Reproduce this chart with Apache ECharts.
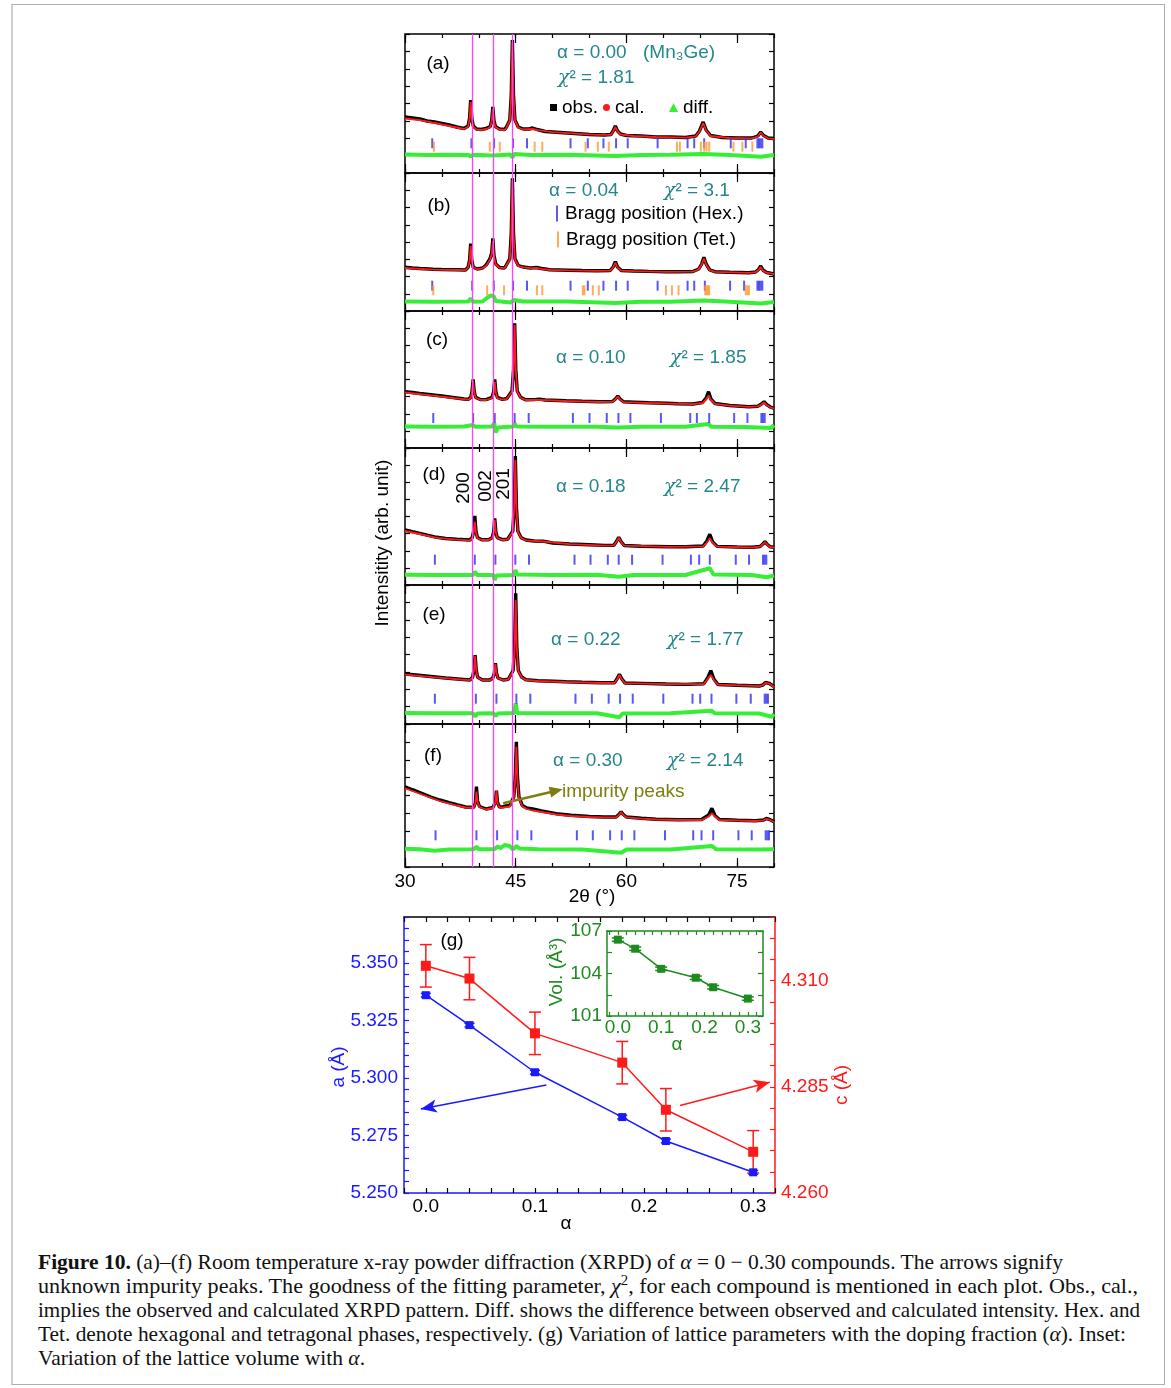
<!DOCTYPE html>
<html><head><meta charset="utf-8">
<script src="https://cdn.jsdelivr.net/npm/echarts@6/dist/echarts.min.js"></script>
<style>
html,body{margin:0;padding:0;background:#fff;}
#wrap{position:relative;width:1171px;height:1388px;overflow:hidden;background:#fff;}
#frame{position:absolute;left:11px;top:4px;width:1154px;height:1381px;border:1px solid #b0b0b0;border-left:2px solid #cdcdcd;box-sizing:border-box;}
#chart{position:absolute;left:0;top:0;width:1171px;height:1240px;}
#cap{position:absolute;left:38px;top:1250px;font-family:'Liberation Serif',serif;font-size:21px;line-height:24px;color:#111;white-space:nowrap;}
#cap div{height:24px;}
#cap span{display:inline-block;transform-origin:0 50%;}
</style></head><body>
<div id="wrap">
<div id="frame"></div>
<div id="chart"></div>
<div id="cap">
<div><span><b>Figure 10.</b> (a)–(f) Room temperature x-ray powder diffraction (XRPD) of <i>α</i> = 0 − 0.30 compounds. The arrows signify</span></div>
<div><span>unknown impurity peaks. The goodness of the fitting parameter, <i>χ</i><sup style="font-size:14px;line-height:0">2</sup>, for each compound is mentioned in each plot. Obs., cal.,</span></div>
<div><span>implies the observed and calculated XRPD pattern. Diff. shows the difference between observed and calculated intensity. Hex. and</span></div>
<div><span>Tet. denote hexagonal and tetragonal phases, respectively. (g) Variation of lattice parameters with the doping fraction (<i>α</i>). Inset:</span></div>
<div><span>Variation of the lattice volume with <i>α</i>.</span></div>
</div>
</div>
<script>
// ---------------- DATA ----------------
// XRD patterns: [2theta (deg), intensity (arb. unit)]
const obsA = [[30,56],[31,55],[32,54],[33,52],[34,51],[35,49.5],[36,48],[37,46],[38,44.5],[38.55,47],[38.75,55],[38.9,73],[39.05,55],[39.25,47],[39.7,44],[40.3,43.5],[41,44.5],[41.55,46.5],[41.75,52.5],[41.9,66],[42.05,52.5],[42.25,46.5],[42.8,44],[43.5,43.5],[43.75,46],[44.2,53],[44.4,78],[44.55,133],[44.7,78],[44.9,53],[45.35,46],[46,44],[46.8,44],[47.3,45],[47.9,43.5],[49,41.5],[51,40.5],[53,39.5],[55,38.5],[57,38],[57.9,38.5],[58.2,42],[58.5,47],[58.8,42],[59.2,39],[60,37.5],[62,37],[64,36],[66,36],[68,35.5],[69.4,37],[69.9,42],[70.4,51],[70.8,43],[71.4,37.5],[73,35.5],[75,35],[77,35],[77.8,37],[78.2,41],[78.6,37.5],[79.2,35],[80,34.5]];
const calA = [[30,54.5],[32,52.8],[34,50],[36,47],[38,44],[38.55,46.3],[38.75,54],[38.9,71],[39.05,54],[39.25,46.3],[39.7,43.3],[40.3,43],[41,44],[41.55,46],[41.75,52],[41.9,64.5],[42.05,52],[42.25,46],[42.8,43.5],[43.5,43],[43.75,45.5],[44.2,52.5],[44.4,77],[44.55,131],[44.7,77],[44.9,52.5],[45.35,45.5],[46,43.5],[47.3,44],[48,42.8],[50,40.8],[53,39.3],[56,38.2],[57.9,38.2],[58.2,41.5],[58.5,46],[58.8,41.5],[59.2,38.5],[61,37],[64,36],[68,35.3],[69.4,36.7],[69.9,41.5],[70.4,50],[70.8,42.5],[71.4,37],[74,35],[77,34.6],[77.8,36.5],[78.2,40.5],[78.6,37],[79.2,34.7],[80,34.2]];
const diffA = [[30,18.5],[33,18],[36,18.3],[38.6,18],[38.9,16.5],[39.2,18.3],[41.9,17.5],[44.3,18.5],[44.55,15.5],[44.8,19],[47,18],[52,18.3],[58.5,17],[62,18],[66,18.3],[70.4,19],[74,18],[78.2,16.3],[80,18]];
const hexA = [33.69,39.0,42.07,44.64,46.53,52.43,54.77,56.89,58.6,60.18,64.23,68.29,69.19,70.54,74.14,76.17,77.75,77.97,78.2,78.42];
const tetA = [33.92,41.49,42.84,47.57,48.6,54.46,56.13,57.61,66.85,67.25,70.09,70.54,70.86,71.22,74.5,75.72,77.07];
const hexLevelA = 29.7, tetLevelA = 26.3;

const obsB = [[30,43.7],[31,43],[32,42.5],[33.8,41.7],[35,41.5],[37,41.2],[38.2,41],[38.55,43.7],[38.75,51],[38.9,67.5],[39.05,51],[39.25,43.7],[39.8,42],[40.5,43],[41,46],[41.5,52],[41.75,58],[41.9,72.7],[42.05,56],[42.3,47],[42.8,43.5],[43.5,43],[44.2,52.2],[44.4,77.8],[44.55,132.7],[44.7,77.8],[44.9,52.2],[45.35,45.5],[46,44],[47,43],[47.8,43.5],[48.5,42.5],[49.6,41.2],[52,40.8],[54,40.5],[56,40.3],[57.8,40.5],[58.2,44],[58.5,49.3],[58.8,44],[59.3,40.5],[61,40],[63,39.6],[65.4,39.3],[67,39.2],[69,39.5],[69.8,42],[70.2,47],[70.5,53.7],[70.8,47],[71.3,41],[72,39.3],[74,38.8],[76.6,38.3],[77.5,39],[77.9,41.5],[78.2,45],[78.5,41],[79,38.5],[80,37]];
const calB = [[30,43],[33.8,41.3],[37,41],[38.2,40.8],[38.55,43.5],[38.75,50],[38.9,65],[39.05,50],[39.25,43.5],[39.8,41.8],[40.5,42.7],[41,45.3],[41.5,51],[41.75,57],[41.9,70],[42.05,55],[42.3,46.5],[42.8,43.3],[43.5,42.8],[44.2,51.5],[44.4,77],[44.55,130.5],[44.7,77],[44.9,51.5],[45.35,45.2],[46,43.7],[47,42.8],[47.8,43],[48.5,42.2],[49.6,41],[52,40.6],[56,40.1],[57.8,40.3],[58.2,43.5],[58.5,48.5],[58.8,43.5],[59.3,40.3],[61,39.8],[65.4,39.1],[69,39.3],[69.8,41.5],[70.2,46.5],[70.5,52.5],[70.8,46.5],[71.3,40.8],[72,39.1],[76.6,38.1],[77.5,38.8],[77.9,41],[78.2,44],[78.5,40.5],[79,38.3],[80,36.8]];
const diffB = [[30,9.5],[34,9.3],[38.6,9.5],[38.9,12.5],[39.2,9.3],[40.5,9.5],[41.1,13],[41.6,15.5],[42,15],[42.3,10],[44.3,8.5],[44.55,7],[44.8,11],[46,9.5],[52,9.5],[58.5,8],[62,9.3],[66,9.3],[70.5,10.5],[74,9.3],[78.2,7.5],[80,9]];
const hexB = [33.69,39.1,42.03,44.64,46.53,52.43,54.77,56.89,58.6,60.18,64.23,68.29,69.19,70.63,74.05,75.95,77.75,77.97,78.2,78.42];
const tetB = [33.83,41.13,43.42,47.88,48.6,54.1,54.32,55.45,56.26,65.36,66.17,67.07,70.68,70.86,71.04,71.22,76.17,76.4,76.62];
const hexLevelB = 25.3, tetLevelB = 20.7;

const obsC = [[30,56.3],[31,55.5],[32,54.5],[33.8,53],[35,52],[36.5,50.5],[38,49],[38.6,48.7],[38.9,50.6],[39.08,56.3],[39.23,68.7],[39.38,56.3],[39.58,50.6],[40.2,48.5],[41,48.4],[41.8,50.6],[42.01,56.3],[42.16,68.7],[42.31,56.3],[42.51,50.6],[43.2,48.6],[43.8,49.5],[44.5,57],[44.71,78.6],[44.86,124.7],[45.01,78.6],[45.21,57],[45.66,50.7],[46.3,48.3],[47.5,48.4],[48.2,48.9],[49,48],[51.8,47.3],[54,46.8],[56.4,46.3],[58.1,46.5],[58.5,49],[58.83,52],[59.15,49],[59.6,46.2],[61,45.8],[63,45.2],[65.4,44.7],[67,44.3],[69,44],[70.3,45.5],[70.8,50],[71.13,56.3],[71.45,49],[72,44.5],[74,42.5],[76.6,41.3],[77.8,41.8],[78.3,44],[78.65,46.3],[79,43.5],[79.5,41],[80,39.7]];
const calC = [[30,55.5],[33.8,52.3],[36.5,50],[38.6,48.3],[38.9,50.2],[39.08,55.7],[39.23,67.5],[39.38,55.7],[39.58,50.2],[40.2,48.2],[41,48],[41.8,50],[42.01,55.5],[42.16,66],[42.31,55.5],[42.51,50],[43.2,48.3],[43.8,49.2],[44.5,56.5],[44.71,78],[44.86,123],[45.01,78],[45.21,56.5],[45.66,50.3],[46.3,48],[48.2,48.2],[51.8,47],[56.4,46],[58.1,46.2],[58.5,48.6],[58.83,51.5],[59.15,48.6],[59.6,45.9],[63,45],[65.4,44.5],[69,43.8],[70.3,45],[70.8,48.5],[71.13,52.5],[71.45,48],[72,44.2],[74,42.3],[76.6,41.1],[77.8,41.6],[78.3,43.5],[78.65,45.5],[79,43],[79.5,40.7],[80,39.5]];
const diffC = [[30,21.5],[34,21.3],[38,21.5],[39.2,23],[39.5,21.3],[41.8,21.5],[42.1,25],[42.3,15.5],[42.6,20.5],[44.7,21.5],[44.86,24.5],[45.1,21.5],[50,21.3],[56,21.3],[58.8,20.5],[62,21.3],[68,21.3],[71.1,24],[71.5,21.3],[76,21],[79.6,20],[80,23]];
const hexC = [33.83,39.23,42.16,44.86,46.76,52.75,55.0,57.34,58.92,60.54,64.68,68.65,69.55,71.22,74.6,76.4,78.29,78.5,78.74];
const hexLevelC = 30;

const obsD = [[30,55],[31,53.3],[32,51.7],[33,49.8],[34.3,47.7],[35.5,46.5],[37,45.7],[38.8,45],[39.11,47.5],[39.31,54],[39.46,69],[39.61,54],[39.81,47.5],[40.4,45.3],[41.3,45.3],[41.81,47.3],[42.01,53],[42.16,66.7],[42.31,53],[42.51,47.3],[43.2,45.3],[43.9,45.8],[44.6,53.7],[44.8,77.5],[44.95,129],[45.1,77.5],[45.3,53.7],[45.75,47.3],[46.4,45],[47.5,44],[48.7,43.8],[50,42],[52.3,41],[55,40.2],[57,39.6],[58.3,39.8],[58.65,43.5],[58.96,47.7],[59.27,43.5],[59.7,39.5],[62,38.8],[65.8,38.3],[68,38.2],[70.4,39],[70.9,44],[71.3,50.7],[71.7,43],[72.3,38.6],[75,38],[77.1,37.7],[78.1,38.5],[78.5,41],[78.78,43.3],[79.1,40.5],[79.5,38.2],[80,37.7]];
const calD = [[30,54],[32,51],[34.3,47.2],[37,45.3],[38.8,44.7],[39.11,47],[39.31,52.5],[39.46,63.3],[39.61,52.5],[39.81,47],[40.4,45],[41.3,45],[41.81,47],[42.01,52.5],[42.16,65],[42.31,52.5],[42.51,47],[43.2,45],[43.9,45.5],[44.6,53],[44.8,76],[44.95,125],[45.1,76],[45.3,53],[45.75,47],[46.4,44.7],[48.7,43.5],[52.3,40.8],[57,39.4],[58.3,39.6],[58.65,43.3],[58.96,47.3],[59.27,43.3],[59.7,39.3],[65.8,38.1],[70.4,38.6],[70.9,42.5],[71.3,46.7],[71.7,42],[72.3,38.4],[77.1,37.5],[78.1,38.3],[78.5,40.8],[78.78,43],[79.1,40.3],[79.5,38],[80,37.5]];
const diffD = [[30,10.3],[34,10],[39.2,10],[39.46,13.3],[39.8,10],[42,10],[42.16,5],[42.4,9.5],[44.8,10],[44.95,15],[45.2,10.5],[50,10],[56,10.3],[58.96,8.3],[61,10],[68,10],[71.3,16.7],[71.8,10.5],[77,10],[79,7.7],[80,9.5]];
const hexD = [34.05,39.46,42.25,44.95,46.8,52.97,55.14,57.48,58.96,60.77,64.9,68.74,69.86,71.3,74.82,76.62,78.51,78.74,78.96];
const hexLevelD = 25.3;

const obsE = [[30,50],[31.5,49],[33.8,47.3],[35.5,46],[37.5,44.8],[38.8,44],[39.15,46.7],[39.35,53.8],[39.5,69],[39.65,53.8],[39.85,46.7],[40.5,44],[41.5,44],[41.9,46],[42.1,50.8],[42.25,60.7],[42.4,50.8],[42.6,46],[43.3,44],[44,44.7],[44.65,53.5],[44.85,77.5],[45,130.7],[45.15,77.5],[45.35,53.5],[45.8,47],[46.4,44.3],[48,43.3],[50,42.8],[51.8,42.3],[54,41.8],[56.5,41.3],[58.4,41.3],[58.75,45.5],[59.05,49.7],[59.35,45.5],[59.8,41],[62,40.6],[65.4,40],[68,39.6],[70.5,40.3],[71,46],[71.44,53.3],[71.85,45],[72.4,39.5],[75,38.7],[78,38],[78.5,39],[78.85,41.5],[79.1,43.3],[79.4,40.5],[80,37.3]];
const calE = [[30,49.3],[33.8,46.8],[37.5,44.5],[38.8,43.8],[39.15,46.5],[39.35,53.5],[39.5,68],[39.65,53.5],[39.85,46.5],[40.5,43.8],[41.5,43.8],[41.9,45.8],[42.1,50.5],[42.25,60],[42.4,50.5],[42.6,45.8],[43.3,43.8],[44,44.5],[44.65,53],[44.85,75.5],[45,124],[45.15,75.5],[45.35,53],[45.8,46.7],[46.4,44],[48,43],[51.8,42],[56.5,41],[58.4,41],[58.75,45],[59.05,49],[59.35,45],[59.8,40.8],[65.4,39.8],[70.5,40],[71,45],[71.44,49],[71.85,44],[72.4,39.3],[78,37.8],[78.5,38.8],[78.85,41.2],[79.1,43],[79.4,40.3],[80,37]];
const diffE = [[30,11],[34,10.7],[39.2,10.7],[39.5,7.3],[39.8,10.5],[42,10.7],[42.3,8],[42.6,10.5],[44.8,11],[45,20.7],[45.2,11],[50,10.8],[56,10.7],[59.05,6.7],[59.5,10.5],[66,10.7],[71.5,13.3],[72,10.7],[78,10.5],[79.7,7.3],[80,10]];
const hexE = [34.05,39.6,42.39,45.09,46.98,53.1,55.32,57.6,59.14,60.86,65.0,68.96,70.0,71.53,74.9,76.85,78.74,78.96,79.19];
const hexLevelE = 25.3;

const obsF = [[30,80.3],[31,77.3],[32.5,73],[33.5,70],[34.7,67],[36,64.3],[37,62.3],[38.2,60],[39.3,59.5],[39.53,64],[39.68,80.3],[39.83,66],[40.1,60.5],[41,58],[41.9,59.5],[42.24,64.5],[42.39,76.3],[42.54,64.5],[42.8,60],[43.3,60.3],[43.7,61],[44.2,61.5],[44.74,70],[44.94,90],[45.09,125.3],[45.24,90],[45.44,70],[45.9,61.5],[46.5,59],[47.3,58],[48.5,56],[50.5,53.3],[52.5,51.8],[55,50.5],[57,50],[58.6,50],[58.98,52.5],[59.28,55.3],[59.58,52.5],[60,50],[62,48.7],[64,47.8],[67,47.3],[70.2,47.5],[71.15,52],[71.58,58.7],[72,51.5],[72.6,47.5],[75,46.8],[77.5,46.3],[78.6,47],[78.95,48.5],[79.19,49.7],[79.5,47.3],[80,45.3]];
const calF = [[30,78.7],[31,76],[32.5,72],[34.7,66],[36,63.3],[37,61.5],[38.2,59.5],[39.3,59],[39.53,63.3],[39.68,75.3],[39.83,65],[40.1,60],[41,57.5],[41.9,59],[42.24,64],[42.39,76],[42.54,64],[42.8,59.5],[43.3,59.5],[43.7,60],[44.2,60.5],[44.74,69],[44.94,88],[45.09,120.3],[45.24,88],[45.44,69],[45.9,60.5],[46.5,58],[47.3,56.5],[48.5,55],[50.5,52.5],[52.5,51],[55,50],[57,49.6],[58.6,49.6],[58.98,52],[59.28,55],[59.58,52],[60,49.6],[62,48.3],[64,47.5],[67,47],[70.2,47],[71.15,50.5],[71.58,53.7],[72,50.5],[72.6,47],[75,46.5],[77.5,46],[78.6,46.7],[78.95,48.2],[79.19,49],[79.5,47],[80,45]];
const diffF = [[30,18.3],[32,17.7],[34,16.3],[36,17.5],[39.3,17.7],[39.68,20.3],[40,17.7],[42.1,17.7],[42.5,20.3],[43,19],[43.5,22],[44.2,21],[44.6,17.5],[45.1,21],[45.5,18.5],[48,17.7],[54,17.5],[59.3,14.3],[60,17.5],[66,17.5],[71.6,21],[72.2,17.7],[78,17.5],[80,17.7]];
const hexF = [34.14,39.68,42.48,45.23,47.12,53.29,55.45,57.79,59.37,61.08,65.23,69.05,70.18,71.76,75.18,76.98,78.87,79.1,79.32];
const hexLevelF = 31.7;

const guideLines = [39.05, 41.95, 44.55];          // magenta reference lines (2theta)
const impurityArrow = [[43.3, 63.7], [50.5, 76.3]]; // panel (f) arrow, data coords

// Panel (g)
const alpha = [0, 0.04, 0.1, 0.18, 0.22, 0.3];
const aVals = [5.336, 5.323, 5.3025, 5.283, 5.2726, 5.259];
const aErr  = [0.0008, 0.0008, 0.0008, 0.0008, 0.0008, 0.0008];
const cVals = [4.3135, 4.3105, 4.2976, 4.2907, 4.2796, 4.2697];
const cErr  = [0.005, 0.005, 0.005, 0.005, 0.005, 0.005];
const volVals = [106.39, 105.75, 104.33, 103.70, 103.03, 102.23];
const volErr  = [0.12, 0.12, 0.12, 0.12, 0.12, 0.12];
const aArrow = [[0.1104, 5.297], [-0.0046, 5.2865]];
const cArrow = [[0.233, 4.2806], [0.3152, 4.2861]];

// Tick labels
const xrdTickLabels = [30, 45, 60, 75];
const gXTicks = [-0.02,0,0.02,0.04,0.06,0.08,0.1,0.12,0.14,0.16,0.18,0.2,0.22,0.24,0.26,0.28,0.3,0.32];
const gXLabels = [0, 0.1, 0.2, 0.3];
const aTicks = [5.25,5.255,5.26,5.265,5.27,5.275,5.28,5.285,5.29,5.295,5.3,5.305,5.31,5.315,5.32,5.325,5.33,5.335,5.34,5.345,5.35,5.355,5.36,5.365,5.37];
const aLabels = [5.25, 5.275, 5.3, 5.325, 5.35];
const cTicks = [4.26,4.265,4.27,4.275,4.28,4.285,4.29,4.295,4.3,4.305,4.31,4.315,4.32,4.325];
const cLabels = [4.26, 4.285, 4.31];
const insetXTicks = [-0.02,0,0.02,0.04,0.06,0.08,0.1,0.12,0.14,0.16,0.18,0.2,0.22,0.24,0.26,0.28,0.3,0.32];
const insetXLabels = [0, 0.1, 0.2, 0.3];
const volTicks = [101, 102.5, 104, 105.5, 107];
const volLabels = [101, 104, 107];

// ---------------- CHART ----------------
const FONT = "'Liberation Sans', Arial, sans-serif";
const TEAL = '#25878a';
const BLUE = '#1a1aff', RED = '#ff1a1a', GREEN = '#1f8a1f';
const HEXC = '#3030ee', TETC = '#ff9933', DIFFC = '#36ee36';

const panels = [
  {obs: obsA, cal: calA, diff: diffA, hex: hexA, hexLevel: hexLevelA, tet: tetA, tetLevel: tetLevelA},
  {obs: obsB, cal: calB, diff: diffB, hex: hexB, hexLevel: hexLevelB, tet: tetB, tetLevel: tetLevelB},
  {obs: obsC, cal: calC, diff: diffC, hex: hexC, hexLevel: hexLevelC},
  {obs: obsD, cal: calD, diff: diffD, hex: hexD, hexLevel: hexLevelD},
  {obs: obsE, cal: calE, diff: diffE, hex: hexE, hexLevel: hexLevelE},
  {obs: obsF, cal: calF, diff: diffF, hex: hexF, hexLevel: hexLevelF}
];
const tops = [34, 173, 311, 448, 585, 724];
const heights = [139, 138, 137, 137, 139, 143];
const PL = 405, PW = 369;

const grid = [], xAxis = [], yAxis = [], series = [];
const tick = (len, color) => ({show: true, inside: true, length: len, lineStyle: {color: color || '#000', width: 1.2}});
const line = (show, color) => ({show: show, onZero: false, lineStyle: {color: color || '#000', width: 1.5}});

panels.forEach((p, i) => {
  grid.push({left: PL, top: tops[i], width: PW, height: heights[i], show: true, borderColor: '#000', borderWidth: 1.5, backgroundColor: 'transparent'});
  const bx = {type: 'value', gridIndex: i, min: 30, max: 80, splitLine: {show: false}, axisLine: line(false)};
  xAxis.push(Object.assign({}, bx, {position: 'bottom', interval: 5, axisTick: tick(4),
    axisLabel: i === 5 ? {show: true, customValues: xrdTickLabels, fontSize: 19, color: '#000', fontFamily: FONT, margin: 5} : {show: false}}));
  xAxis.push(Object.assign({}, bx, {position: 'bottom', axisTick: Object.assign(tick(9), {customValues: xrdTickLabels}), axisLabel: {show: false}}));
  xAxis.push(Object.assign({}, bx, {position: 'top', interval: 5, axisTick: tick(4), axisLabel: {show: false}}));
  xAxis.push(Object.assign({}, bx, {position: 'top', axisTick: Object.assign(tick(9), {customValues: xrdTickLabels}), axisLabel: {show: false}}));
  const by = {type: 'value', gridIndex: i, min: 0, max: heights[i], interval: heights[i] / 8, splitLine: {show: false}, axisLine: line(false), axisLabel: {show: false}, axisTick: tick(5)};
  yAxis.push(Object.assign({}, by, {position: 'left'}));
  yAxis.push(Object.assign({}, by, {position: 'right'}));
  const xi = 4 * i, yi = 2 * i;
  const common = {xAxisIndex: xi, yAxisIndex: yi, silent: true, animation: false};
  series.push(Object.assign({}, common, {type: 'line', name: 'obs.', data: p.obs, showSymbol: false, color: '#000', lineStyle: {color: '#000', width: 3.4}, z: 2}));
  series.push(Object.assign({}, common, {type: 'line', name: 'diff.', data: p.diff, showSymbol: false, color: DIFFC, lineStyle: {color: DIFFC, width: 4}, z: 2}));
  series.push(Object.assign({}, common, {type: 'line', name: 'cal.', data: p.cal, showSymbol: false, color: RED, lineStyle: {color: RED, width: 1.8}, z: 3}));
  series.push(Object.assign({}, common, {type: 'scatter', name: 'Bragg position (Hex.)', data: p.hex.map(x => [x, p.hexLevel]), symbol: 'rect', symbolSize: [2, 10], color: HEXC, z: 4}));
  if (p.tet) series.push(Object.assign({}, common, {type: 'scatter', name: 'Bragg position (Tet.)', data: p.tet.map(x => [x, p.tetLevel]), symbol: 'rect', symbolSize: [2, 10], color: TETC, z: 4}));
});
// impurity arrow on panel (f)
series.push({type: 'line', xAxisIndex: 20, yAxisIndex: 10, data: [], silent: true, animation: false,
  markLine: {silent: true, animation: false, symbol: ['none', 'triangle'], symbolSize: [11, 13], label: {show: false},
    lineStyle: {color: '#7d7d10', width: 2.5, type: 'solid', curveness: 0.35},
    data: [[{coord: impurityArrow[0]}, {coord: impurityArrow[1]}]]}});

// overlay grid for magenta guide lines (index 6)
grid.push({left: PL, top: 34, width: PW, height: 833, show: false});
xAxis.push({type: 'value', gridIndex: 6, min: 30, max: 80, show: false});
yAxis.push({type: 'value', gridIndex: 6, min: 0, max: 1, show: false});
series.push({type: 'line', xAxisIndex: 24, yAxisIndex: 12, data: [[30, -1]], showSymbol: false, lineStyle: {width: 0}, silent: true, animation: false, z: 6,
  markLine: {silent: true, animation: false, symbol: 'none', label: {show: false}, lineStyle: {color: '#ff40ff', width: 1.3, type: 'solid'},
    data: guideLines.map(v => ({xAxis: v}))}});

// panel (g) grid 7
grid.push({left: 404, top: 917, width: 371, height: 276, show: false});
xAxis.push({type: 'value', gridIndex: 7, position: 'bottom', min: -0.02, max: 0.32, splitLine: {show: false},
  axisLine: line(true, BLUE),
  axisTick: Object.assign(tick(5), {customValues: gXTicks}),
  axisLabel: {show: true, customValues: gXLabels, formatter: v => Number(v).toFixed(1), fontSize: 19, color: '#000', fontFamily: FONT, margin: 4}});
xAxis.push({type: 'value', gridIndex: 7, position: 'top', min: -0.02, max: 0.32, splitLine: {show: false},
  axisLine: line(true, '#000'),
  axisTick: Object.assign(tick(5), {customValues: gXTicks}), axisLabel: {show: false}});
yAxis.push({type: 'value', gridIndex: 7, position: 'left', min: 5.25, max: 5.37, splitLine: {show: false},
  axisLine: line(true, BLUE),
  axisTick: Object.assign(tick(5, BLUE), {customValues: aTicks}),
  axisLabel: {show: true, customValues: aLabels, formatter: v => Number(v).toFixed(3), fontSize: 19, color: BLUE, fontFamily: FONT, margin: 6}});
yAxis.push({type: 'value', gridIndex: 7, position: 'right', min: 4.26, max: 4.325, splitLine: {show: false},
  axisLine: line(true, RED),
  axisTick: Object.assign(tick(5, RED), {customValues: cTicks}),
  axisLabel: {show: true, customValues: cLabels, formatter: v => Number(v).toFixed(3), fontSize: 19, color: RED, fontFamily: FONT, margin: 6}});

function errRender(capHalf, color) {
  return function (params, api) {
    const x = api.value(0), lo = api.value(1), hi = api.value(2);
    const a = api.coord([x, lo]), b = api.coord([x, hi]);
    const st = {stroke: color, lineWidth: 1.5};
    return {type: 'group', children: [
      {type: 'line', shape: {x1: a[0], y1: a[1], x2: b[0], y2: b[1]}, style: st},
      {type: 'line', shape: {x1: a[0] - capHalf, y1: a[1], x2: a[0] + capHalf, y2: a[1]}, style: st},
      {type: 'line', shape: {x1: b[0] - capHalf, y1: b[1], x2: b[0] + capHalf, y2: b[1]}, style: st}
    ]};
  };
}
series.push({type: 'line', name: 'a', xAxisIndex: 25, yAxisIndex: 13, data: alpha.map((x, i) => [x, aVals[i]]),
  symbol: 'rect', symbolSize: 8, color: BLUE, lineStyle: {color: BLUE, width: 1.5}, silent: true, animation: false, z: 3,
  markLine: {silent: true, animation: false, symbol: ['none', 'arrow'], symbolSize: [10, 16], label: {show: false},
    lineStyle: {color: BLUE, width: 1.5, type: 'solid'}, data: [[{coord: aArrow[0]}, {coord: aArrow[1]}]]}});
series.push({type: 'custom', xAxisIndex: 25, yAxisIndex: 13, renderItem: errRender(5, BLUE), silent: true, animation: false, z: 2,
  encode: {x: 0, y: [1, 2]}, data: alpha.map((x, i) => [x, aVals[i] - aErr[i], aVals[i] + aErr[i]])});
series.push({type: 'line', name: 'c', xAxisIndex: 25, yAxisIndex: 14, data: alpha.map((x, i) => [x, cVals[i]]),
  symbol: 'rect', symbolSize: 10, color: RED, lineStyle: {color: RED, width: 1.5}, silent: true, animation: false, z: 3,
  markLine: {silent: true, animation: false, symbol: ['none', 'arrow'], symbolSize: [10, 16], label: {show: false},
    lineStyle: {color: RED, width: 1.5, type: 'solid'}, data: [[{coord: cArrow[0]}, {coord: cArrow[1]}]]}});
series.push({type: 'custom', xAxisIndex: 25, yAxisIndex: 14, renderItem: errRender(6, RED), silent: true, animation: false, z: 2,
  encode: {x: 0, y: [1, 2]}, data: alpha.map((x, i) => [x, cVals[i] - cErr[i], cVals[i] + cErr[i]])});

// inset grid 8
grid.push({left: 607, top: 931, width: 156, height: 85, show: false});
xAxis.push({type: 'value', gridIndex: 8, position: 'bottom', min: -0.025, max: 0.335, splitLine: {show: false},
  axisLine: line(true, GREEN),
  axisTick: Object.assign(tick(4, GREEN), {customValues: insetXTicks}),
  axisLabel: {show: true, customValues: insetXLabels, formatter: v => Number(v).toFixed(1), fontSize: 19, color: GREEN, fontFamily: FONT, margin: 2}});
xAxis.push({type: 'value', gridIndex: 8, position: 'top', min: -0.025, max: 0.335, splitLine: {show: false},
  axisLine: line(true, GREEN),
  axisTick: Object.assign(tick(4, GREEN), {customValues: insetXTicks}), axisLabel: {show: false}});
yAxis.push({type: 'value', gridIndex: 8, position: 'left', min: 101, max: 107, splitLine: {show: false},
  axisLine: line(true, GREEN),
  axisTick: Object.assign(tick(5, GREEN), {customValues: volTicks}),
  axisLabel: {show: true, customValues: volLabels, fontSize: 19, color: GREEN, fontFamily: FONT, margin: 5}});
yAxis.push({type: 'value', gridIndex: 8, position: 'right', min: 101, max: 107, splitLine: {show: false},
  axisLine: line(true, GREEN),
  axisTick: Object.assign(tick(5, GREEN), {customValues: volTicks}), axisLabel: {show: false}});
series.push({type: 'line', name: 'vol', xAxisIndex: 27, yAxisIndex: 15, data: alpha.map((x, i) => [x, volVals[i]]),
  symbol: 'rect', symbolSize: 8, color: GREEN, lineStyle: {color: GREEN, width: 1.5}, silent: true, animation: false, z: 3});
series.push({type: 'custom', xAxisIndex: 27, yAxisIndex: 15, renderItem: errRender(6, GREEN), silent: true, animation: false, z: 2,
  encode: {x: 0, y: [1, 2]}, data: alpha.map((x, i) => [x, volVals[i] - volErr[i], volVals[i] + volErr[i]])});

// ---------------- TEXT ----------------
function T(text, x, y, o) {
  o = o || {};
  const el = {type: 'text', x: x, y: y, z: 100, silent: true, rotation: o.rot || 0,
    style: {text: text, font: (o.style || '') + ' ' + (o.size || 19) + 'px ' + (o.family || FONT), fill: o.fill || '#000',
      textAlign: o.align || 'left', align: o.align || 'left', textVerticalAlign: 'middle', verticalAlign: 'middle'}};
  if (o.rich) el.style.rich = o.rich;
  return el;
}
const chiRich = {c: {fontStyle: 'italic', fontFamily: 'DejaVu Serif', fontSize: 19, fill: TEAL}};
const chi = (v, x, y) => T('{c|χ}² = ' + v, x, y, {fill: TEAL, rich: chiRich});
const graphic = [
  T('(a)', 438, 64, {align: 'center'}),
  T('α = 0.00', 557, 53, {fill: TEAL}),
  T('(Mn₃Ge)', 643, 53, {fill: TEAL}),
  chi('1.81', 558, 78),
  T('(b)', 439, 206, {align: 'center'}),
  T('α = 0.04', 549, 191, {fill: TEAL}),
  chi('3.1', 664, 191),
  T('(c)', 437, 340, {align: 'center'}),
  T('α = 0.10', 556, 358, {fill: TEAL}),
  chi('1.85', 670, 358),
  T('(d)', 434, 475, {align: 'center'}),
  T('α = 0.18', 556, 487, {fill: TEAL}),
  chi('2.47', 664, 487),
  T('200', 464, 488, {align: 'center', rot: Math.PI / 2}),
  T('002', 486, 486, {align: 'center', rot: Math.PI / 2}),
  T('201', 504, 484, {align: 'center', rot: Math.PI / 2}),
  T('(e)', 434, 615, {align: 'center'}),
  T('α = 0.22', 551, 640, {fill: TEAL}),
  chi('1.77', 667, 640),
  T('(f)', 433, 756, {align: 'center'}),
  T('α = 0.30', 553, 761, {fill: TEAL}),
  chi('2.14', 667, 761),
  T('impurity peaks', 562, 792, {fill: '#7d7d10'}),
  T('Intensitity (arb. unit)', 383, 543, {align: 'center', rot: Math.PI / 2}),
  T('2θ (°)', 592, 897, {align: 'center'}),
  T('(g)', 452, 941, {align: 'center'}),
  T('a (Å)', 339, 1067, {align: 'center', rot: Math.PI / 2, fill: BLUE}),
  T('c (Å)', 842, 1085, {align: 'center', rot: Math.PI / 2, fill: RED}),
  T('α', 566, 1224, {align: 'center'}),
  T('Vol. (Å³)', 557, 972, {align: 'center', rot: Math.PI / 2, fill: GREEN}),
  T('α', 677, 1045, {align: 'center', fill: GREEN})
];

const legTxt = {fontSize: 19, color: '#000', fontFamily: FONT};
const legend = [
  {data: [{name: 'obs.', icon: 'rect'}], left: 550, top: 98, itemWidth: 7, itemHeight: 7, padding: 0, selectedMode: false, textStyle: legTxt, lineStyle: {width: 0, opacity: 0}},
  {data: [{name: 'cal.', icon: 'circle'}], left: 603, top: 98, itemWidth: 7, itemHeight: 7, padding: 0, selectedMode: false, textStyle: legTxt, lineStyle: {width: 0, opacity: 0}},
  {data: [{name: 'diff.', icon: 'triangle'}], left: 669, top: 98, itemWidth: 9, itemHeight: 9, padding: 0, selectedMode: false, textStyle: legTxt, lineStyle: {width: 0, opacity: 0}},
  {data: [{name: 'Bragg position (Hex.)', icon: 'rect'}], left: 556, top: 204, itemWidth: 2, itemHeight: 16, padding: 0, selectedMode: false, textStyle: Object.assign({padding: [0, 0, 0, 2]}, legTxt)},
  {data: [{name: 'Bragg position (Tet.)', icon: 'rect'}], left: 557, top: 230, itemWidth: 2, itemHeight: 16, padding: 0, selectedMode: false, textStyle: Object.assign({padding: [0, 0, 0, 2]}, legTxt)}
];

const chart = echarts.init(document.getElementById('chart'), null, {renderer: 'canvas'});
chart.setOption({animation: false, textStyle: {fontFamily: FONT}, grid, xAxis, yAxis, series, legend, graphic});

// caption fitting to the reference line widths
const capTargets = [1025, 1100, 1102, 1088, 327];
function fitCap() {
  document.querySelectorAll('#cap span').forEach((s, i) => {
    s.style.transform = 'none';
    const w = s.getBoundingClientRect().width;
    if (w > 0) s.style.transform = 'scaleX(' + (capTargets[i] / w) + ')';
  });
}
fitCap();
if (document.fonts && document.fonts.ready) document.fonts.ready.then(fitCap);
</script>
</body></html>
